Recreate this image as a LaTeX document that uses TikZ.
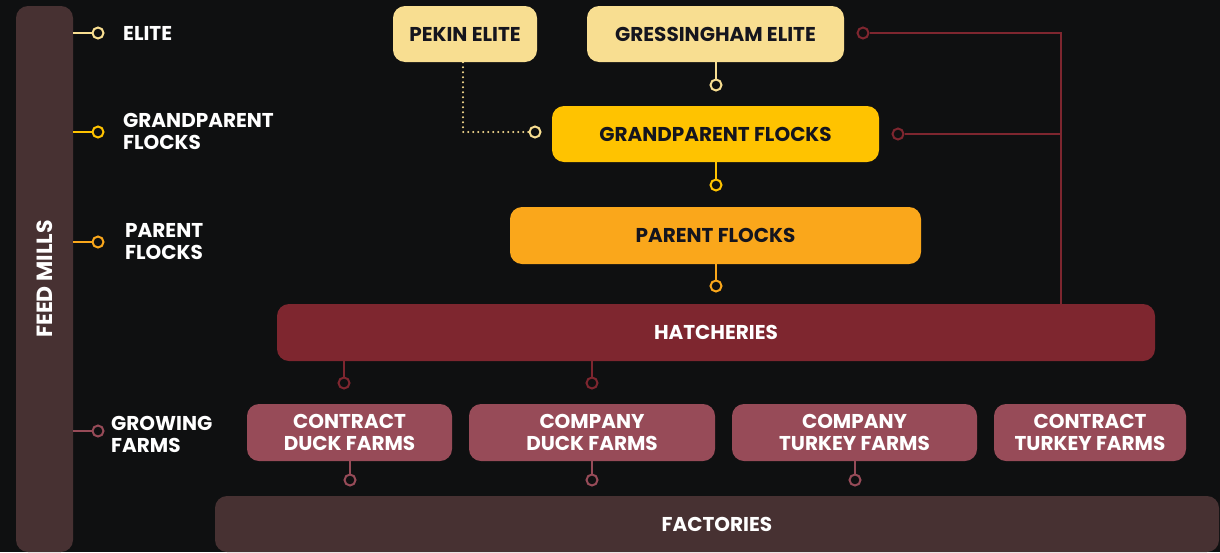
\documentclass[tikz,border=0pt]{standalone}
\usepackage{fontspec}
\setmainfont{Poppins}
\definecolor{bg}{HTML}{0F1011}
\definecolor{pale}{HTML}{F8DE91}
\definecolor{gold}{HTML}{FFC300}
\definecolor{orng}{HTML}{FAA71B}
\definecolor{wine}{HTML}{7E262F}
\definecolor{rose}{HTML}{974B58}
\definecolor{brwn}{HTML}{473132}
\definecolor{ink}{HTML}{15151E}
\begin{document}
\begin{tikzpicture}[x=1pt,y=-1pt,
  box/.style={rectangle, rounded corners=12pt, inner sep=0pt, align=center, font=\bfseries\fontsize{20}{22}\selectfont},
  dark/.style={text=ink},
  light/.style={text=white},
  dot/.style={circle, draw=#1, fill=bg, line width=2pt, minimum size=11pt, inner sep=0pt},
  link/.style={draw=#1, line width=2pt},
  lbl/.style={anchor=west, align=left, text=white, inner sep=0pt, font=\bfseries\fontsize{20}{22}\selectfont}
]
\fill[bg] (0,0) rectangle (1220,552);
\useasboundingbox (0,0) rectangle (1220,552);

% feed mills bar
\node[box, fill=brwn, minimum width=57pt, minimum height=546pt] (feed) at (44.5,279) {};
\node[light, rotate=90, font=\bfseries\fontsize{22}{24}\selectfont] (feedt) at (45,279) {FEED MILLS};

% left legend
\node[dot=pale] (d1) at (98,33) {};
\node[dot=gold] (d2) at (98,132) {};
\node[dot=orng] (d3) at (98,242) {};
\node[dot=rose] (d4) at (98,431) {};
\draw[link=pale] (feed.east |- d1) -- (d1);
\draw[link=gold] (feed.east |- d2) -- (d2);
\draw[link=orng] (feed.east |- d3) -- (d3);
\draw[link=rose] (feed.east |- d4) -- (d4);
\node[lbl] (l1) at (123,33) {ELITE};
\node[lbl] (l2) at (123,131) {GRANDPARENT\\FLOCKS};
\node[lbl] (l3) at (125,242) {PARENT\\FLOCKS};
\node[lbl] (l4) at (111,434) {GROWING\\FARMS};

% main boxes
\node[box, fill=pale, dark, minimum width=144pt, minimum height=56pt] (pekin) at (465,34) {PEKIN ELITE};
\node[box, fill=pale, dark, minimum width=257pt, minimum height=56pt] (gress) at (715.5,34) {GRESSINGHAM ELITE};
\node[box, fill=gold, dark, minimum width=327pt, minimum height=56pt] (gp) at (715.5,134) {GRANDPARENT FLOCKS};
\node[box, fill=orng, dark, minimum width=411pt, minimum height=57pt] (pf) at (715.5,235.5) {PARENT FLOCKS};
\node[box, fill=wine, light, minimum width=878pt, minimum height=57pt] (hat) at (716,332.5) {HATCHERIES};
\node[box, fill=rose, light, minimum width=205pt, minimum height=57pt] (cdf) at (349.5,432.5) {CONTRACT\\DUCK FARMS};
\node[box, fill=rose, light, minimum width=246pt, minimum height=57pt] (pdf) at (592,432.5) {COMPANY\\DUCK FARMS};
\node[box, fill=rose, light, minimum width=245pt, minimum height=57pt] (ptf) at (854.5,432.5) {COMPANY\\TURKEY FARMS};
\node[box, fill=rose, light, minimum width=192pt, minimum height=57pt] (ctf) at (1090,432.5) {CONTRACT\\TURKEY FARMS};
\node[box, fill=brwn, light, minimum width=1004pt, minimum height=56pt] (fact) at (717,524) {FACTORIES};

% connectors top
\node[dot=pale] (g1) at (716,85) {};
\draw[link=pale] (gress.south -| g1) -- (g1);
\node[dot=pale] (p1) at (535,132) {};
\coordinate (pk) at (463,132);
\draw[draw=pale, line width=2.2pt, dash pattern=on 0pt off 5pt, line cap=round] (pekin.south -| pk) -- (pk) -- (p1);
\node[dot=gold] (g2) at (716,185) {};
\draw[link=gold] (gp.south -| g2) -- (g2);
\node[dot=orng] (g3) at (716,286) {};
\draw[link=orng] (pf.south -| g3) -- (g3);

% right red branch
\node[dot=wine] (r1) at (863,33) {};
\node[dot=wine] (r2) at (898,134) {};
\coordinate (rj1) at (1061,33);
\coordinate (rj2) at (1061,134);
\draw[draw=wine, line width=2pt] (r1) -- (rj1) -- (hat.north -| rj1);
\draw[draw=wine, line width=2pt] (r2) -- (rj2);

% hatcheries to farms
\node[dot=wine] (h1) at (344,383) {};
\node[dot=wine] (h2) at (592,383) {};
\draw[link=wine] (hat.south -| h1) -- (h1);
\draw[link=wine] (hat.south -| h2) -- (h2);

% farms to factories
\node[dot=rose] (f1) at (350,480) {};
\node[dot=rose] (f2) at (592,480) {};
\node[dot=rose] (f3) at (855,480) {};
\draw[link=rose] (cdf.south -| f1) -- (f1);
\draw[link=rose] (pdf.south -| f2) -- (f2);
\draw[link=rose] (ptf.south -| f3) -- (f3);
\end{tikzpicture}
\end{document}
